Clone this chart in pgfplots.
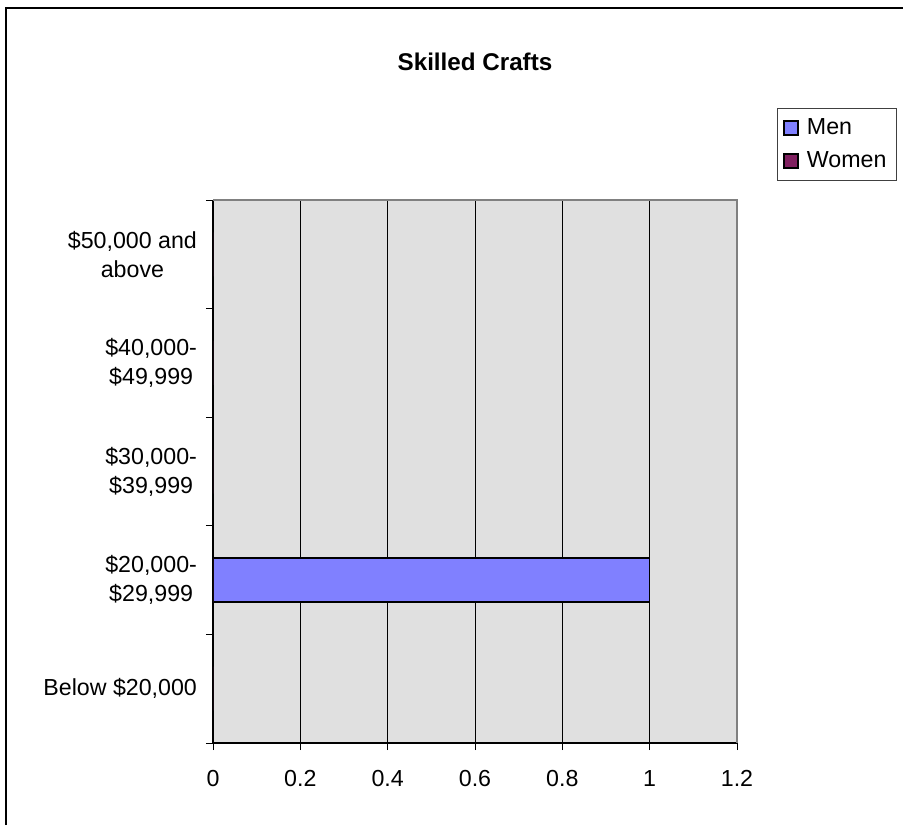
\documentclass[border=0pt]{standalone}
\usepackage{pgfplots}
\pgfplotsset{compat=1.18}
\usepackage{fontspec}
\setmainfont{Liberation Sans}
\definecolor{menc}{RGB}{128,128,255}
\definecolor{womenc}{RGB}{128,32,96}
\definecolor{plotbg}{RGB}{224,224,224}
\definecolor{bordergray}{RGB}{128,128,128}
\begin{document}
\begin{tikzpicture}
\path[use as bounding box] (0,0) rectangle (451.5pt,-412.5pt);
\draw[line width=1pt] (3pt,-412.5pt) -- (3pt,-4pt) -- (451.5pt,-4pt);
\node[font=\fontsize{12.1}{14.5}\selectfont\bfseries] at (237.5pt,-31pt) {Skilled Crafts};
\begin{axis}[
  at={(106.5pt,-371.5pt)}, anchor=south west,
  scale only axis, width=262pt, height=271.5pt,
  xmin=0, xmax=1.2, ymin=-0.5, ymax=4.5,
  axis lines*=left,
  axis line style={black, line width=0.6pt},
  axis background/.style={fill=plotbg},
  xtick={0,0.2,0.4,0.6,0.8,1,1.2},
  xmajorgrids, major grid style={black, line width=0.5pt},
  tick align=outside, major tick length=3.5pt, minor tick length=3.5pt,
  tick style={black, line width=0.5pt},
  ytick={0,1,2,3,4},
  yticklabels={{Below \$20,000}, {\$20,000-\\\$29,999}, {\$30,000-\\\$39,999}, {\$40,000-\\\$49,999}, {\$50,000 and\\above}},
  ytick style={draw=none},
  minor ytick={-0.5,0.5,1.5,2.5,3.5,4.5},
  minor y tick style={draw=black, line width=0.5pt},
  /pgf/number format/assume math mode=true,
  tick label style={font=\fontsize{11.6}{14.5}\selectfont},
  y tick label style={align=center, xshift=-1pt},
  x tick label style={yshift=-6.5pt},
  legend style={at={(1.0763,1.1694)}, anchor=north west, draw=black!75, line width=0.5pt,
    font=\fontsize{11.6}{14.5}\selectfont, inner xsep=3pt, inner ysep=3pt, row sep=3pt},
  legend cell align=left,
  legend image code/.code={\draw[#1, draw=black, line width=0.7pt] (0pt,-3.5pt) rectangle (7pt,3.5pt); \path (9pt,0pt);},
  after end axis/.code={
    \draw[bordergray, line width=1.2pt] (rel axis cs:0,1) -- (rel axis cs:1,1) -- (rel axis cs:1,0);
  },
]
\addplot[xbar, bar width=22pt, bar shift=0pt, fill=menc, draw=black, line width=0.75pt]
  coordinates {(1,1)};
\addlegendentry{Men}
\addplot[xbar, bar width=22pt, bar shift=0pt, fill=womenc, draw=none]
  coordinates {(0,0) (0,1) (0,2) (0,3) (0,4)};
\addlegendentry{Women}
\end{axis}
\end{tikzpicture}
\end{document}
